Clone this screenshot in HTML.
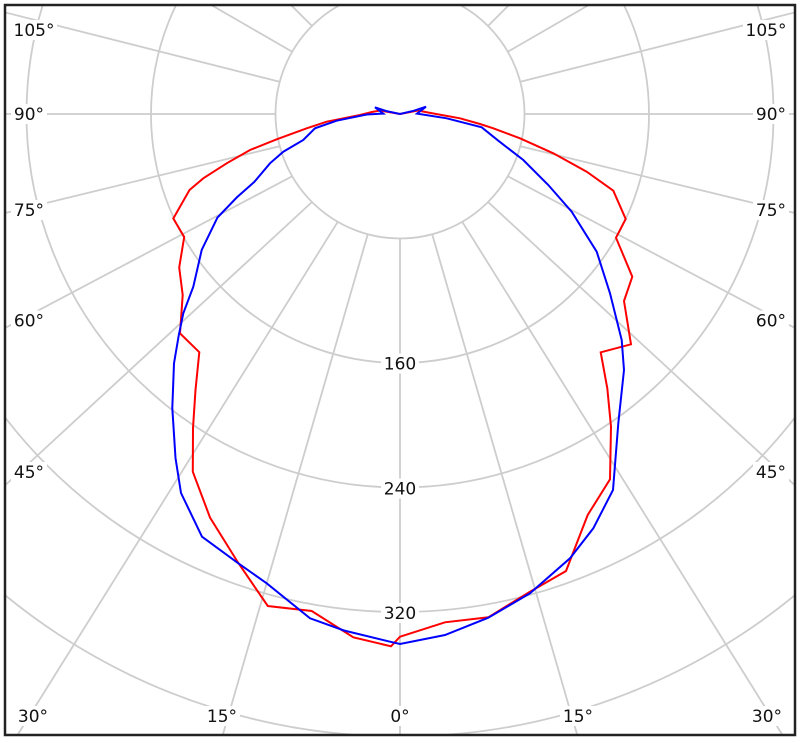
<!DOCTYPE html>
<html>
<head>
<meta charset="utf-8">
<style>
html,body{margin:0;padding:0;background:#fff;}
svg{display:block;}
text{font-family:"DejaVu Sans","Liberation Sans",sans-serif;font-size:17px;fill:#111;}
</style>
</head>
<body>
<svg width="800" height="743" viewBox="0 0 800 743" xmlns="http://www.w3.org/2000/svg">
<defs>
<clipPath id="c"><rect x="6" y="6" width="788" height="728"/></clipPath>
</defs>
<rect x="0" y="0" width="800" height="743" fill="#fff"/>
<g clip-path="url(#c)" fill="none" stroke="#cdcdcd" stroke-width="1.8">
  <circle cx="400" cy="114" r="124.5"/>
  <circle cx="400" cy="114" r="249"/>
  <circle cx="400" cy="114" r="373.5"/>
  <circle cx="400" cy="114" r="498"/>
  <circle cx="400" cy="114" r="622.5"/>
  <line x1="400" y1="238.5" x2="400" y2="740"/>
  <line x1="367.8" y1="234.3" x2="221.3" y2="740"/>
  <line x1="337.75" y1="221.8" x2="14.4" y2="740"/>
  <line x1="312" y1="202" x2="0" y2="490"/>
  <line x1="292.2" y1="176.25" x2="0" y2="330.7"/>
  <line x1="279.7" y1="146.2" x2="0" y2="214.3"/>
  <line x1="275.5" y1="114" x2="0" y2="114"/>
  <line x1="279.7" y1="81.8" x2="0" y2="11.1"/>
  <line x1="292.2" y1="51.75" x2="200" y2="-1.5"/>
  <line x1="312" y1="26" x2="284" y2="-2"/>
  <line x1="337.75" y1="6.2" x2="330" y2="-10"/>
  <line x1="432.2" y1="234.3" x2="578.7" y2="740"/>
  <line x1="462.25" y1="221.8" x2="785.6" y2="740"/>
  <line x1="488" y1="202" x2="800" y2="490"/>
  <line x1="507.8" y1="176.25" x2="800" y2="330.7"/>
  <line x1="520.3" y1="146.2" x2="800" y2="214.3"/>
  <line x1="524.5" y1="114" x2="800" y2="114"/>
  <line x1="520.3" y1="81.8" x2="800" y2="11.1"/>
  <line x1="507.8" y1="51.75" x2="600" y2="-1.5"/>
  <line x1="488" y1="26" x2="516" y2="-2"/>
  <line x1="462.25" y1="6.2" x2="470" y2="-10"/>
</g>
<g fill="#fff" stroke="none">
  <rect x="11" y="20" width="46" height="20"/>
  <rect x="11" y="104" width="36" height="20"/>
  <rect x="11" y="200" width="36" height="20"/>
  <rect x="11" y="310.5" width="36" height="20"/>
  <rect x="11" y="462" width="36" height="20"/>
  <rect x="15" y="706" width="36" height="20"/>
  <rect x="204" y="706" width="36" height="20"/>
  <rect x="388" y="706" width="24" height="20"/>
  <rect x="743" y="20" width="46" height="20"/>
  <rect x="753" y="104" width="36" height="20"/>
  <rect x="753" y="200" width="36" height="20"/>
  <rect x="753" y="310.5" width="36" height="20"/>
  <rect x="753" y="462" width="36" height="20"/>
  <rect x="749" y="706" width="36" height="20"/>
  <rect x="560" y="706" width="36" height="20"/>
  <rect x="381" y="353.5" width="38" height="20"/>
  <rect x="381" y="478.5" width="38" height="20"/>
  <rect x="381" y="603" width="38" height="20"/>
</g>
<g text-anchor="middle">
  <text x="34" y="36">105°</text>
  <text x="29" y="120">90°</text>
  <text x="29" y="216">75°</text>
  <text x="29" y="326.5">60°</text>
  <text x="29" y="478">45°</text>
  <text x="33" y="722">30°</text>
  <text x="222" y="722">15°</text>
  <text x="400" y="722">0°</text>
  <text x="766" y="36">105°</text>
  <text x="771" y="120">90°</text>
  <text x="771" y="216">75°</text>
  <text x="771" y="326.5">60°</text>
  <text x="771" y="478">45°</text>
  <text x="767" y="722">30°</text>
  <text x="578" y="722">15°</text>
  <text x="400" y="369.5">160</text>
  <text x="400" y="494.5">240</text>
  <text x="400" y="619">320</text>
</g>
<polyline fill="none" stroke="#ff0000" stroke-width="2" points="
400,114 380,110.5 372,112 360,115 326.7,121.7 306.7,128.3 276.7,139.3 250,150 226.7,163.3 203.3,178.3 189.5,190
173.3,218.5 184.2,237 179.2,267.5 182.7,295 180,333.3 199.3,352.2 195.5,390 193,428 192.8,471.7 210,517.5
238,562.5 267.8,606 311.7,611 353.3,637.3 391,646.3 400,636.7 445,622.3 488.3,617.3 530,591.7 566,571
587.7,515 610,479.3 611,426.7 607.3,388.3 600.7,352.3 631,344.3 624,301 632.3,276.7 616,237.7 625.7,219
613.3,190.7 586.7,171.7 553.3,153.3 520,138.3 493.3,128.3 480,124 460,118.3 428,112.5 418,110.5 400,114"/>
<polyline fill="none" stroke="#0000ff" stroke-width="2" points="
400,114 386,111 375,107.3 383.3,113.6 366.7,114.5 336.7,120.7 315,128.3 303.3,140 283.3,151.7 270,163.3 254.5,181.7
236.7,197.5 217.5,217.5 201.7,250 193.3,286.7 183.3,313.3 178.8,335 174,363.3 172.3,408 175.5,458 181,493
202,536.7 238.3,563.3 266.7,583.3 310,618.3 344,630.5 390,641.7 400,644 445,635 488.3,617.7 530,593.3
570,558.3 593.3,528.3 613,490 618.3,423.3 624,370 621.7,340 610,293.3 596.7,251.7 571.7,211.7 548.3,185
523.3,160 498.3,140.7 481.7,127.3 446.7,118.3 417,113.6 426,106.7 414,110.7 400,114"/>
<rect x="5" y="5" width="790" height="730" fill="none" stroke="#222" stroke-width="2.5"/>
</svg>
</body>
</html>
